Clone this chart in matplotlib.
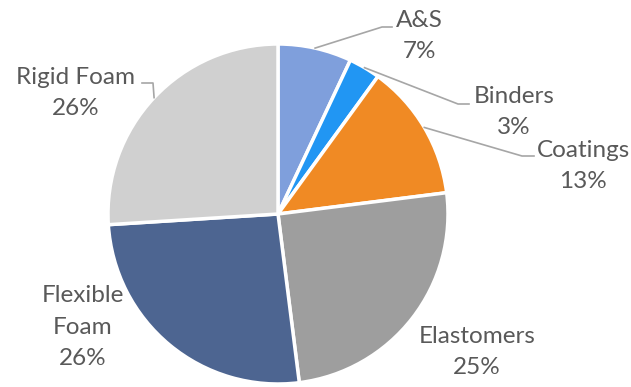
import numpy as np
import matplotlib.pyplot as plt

labels = ['A&S', 'Binders', 'Coatings', 'Elastomers', 'Flexible\nFoam', 'Rigid Foam']
shares = [7, 3, 13, 25, 26, 26]
colors = ['#7f9fdc', '#2196f3', '#f08a24', '#9e9e9e', '#4d6591', '#d0d0d0']

# label text centres (pixels) and elbow of each leader line, None = no leader
label_px = [(419, 36), (514, 112), (583, 166), (477, 352), (83, 327), (76, 93)]
elbow_px = [(382, 27), (458, 104), (522, 156), None, None, (153, 83)]
tail_px = [(392, 27), (469, 104), (534, 156), None, None, (142, 83)]

W, H = 631, 387
cx, cy, R = 278, 214, 170


def to_data(p):
    return ((p[0] - cx) / R, (cy - p[1]) / R)


plt.rcParams['font.family'] = ['Lato', 'DejaVu Sans']

fig = plt.figure(figsize=(W / 100, H / 100), dpi=100)
ax = fig.add_axes([0, 0, 1, 1])

wedges, _ = ax.pie(shares, colors=colors, startangle=90, counterclock=False,
                   radius=1, wedgeprops=dict(edgecolor='white', linewidth=2.5))

# pie() resets the limits, so set them afterwards
ax.set_xlim(-cx / R, (W - cx) / R)
ax.set_ylim((cy - H) / R, cy / R)
ax.set_aspect('equal')
ax.axis('off')

for w, lab, val, lp, ep, tp in zip(wedges, labels, shares, label_px, elbow_px, tail_px):
    ang = np.deg2rad((w.theta1 + w.theta2) / 2)
    if ep is not None:
        sx, sy = np.cos(ang), np.sin(ang)
        ex, ey = to_data(ep)
        tx, ty = to_data(tp)
        ax.plot([sx, ex, tx], [sy, ey, ty], color='#a6a6a6', lw=1.2)
    x, y = to_data(lp)
    ax.text(x, y, f'{lab}\n{val}%', ha='center', va='center', fontsize=17.5,
            color='#595959', linespacing=1.6)

fig.savefig('out.png', dpi=100)
